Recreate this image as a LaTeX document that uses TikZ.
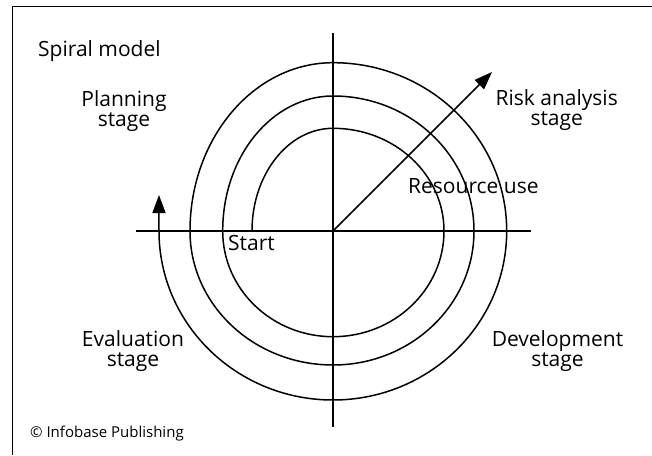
\documentclass[tikz,border=0pt]{standalone}
\usepackage{fontspec}
\setmainfont{Open Sans}
\usetikzlibrary{arrows.meta}
\begin{document}
\begin{tikzpicture}[x=1pt,y=1pt,
  ln/.style={line width=1.5pt},
  lbl/.style={font=\fontsize{21}{20}\selectfont,inner sep=0pt,align=center},
  tip/.style={-{Triangle[length=18pt,width=13pt]}}]
\useasboundingbox (-333,-224) rectangle (319,231);
% frame (top and left edges)
\coordinate (fr1) at (319,224.7);
\coordinate (fr2) at (-320.7,224.7);
\coordinate (fr3) at (-320.7,-224);
\draw[line width=1.3pt] (fr1) -- (fr2) -- (fr3);
% axes
\coordinate (O) at (0,0);
\coordinate (ax-t) at (0,197.7);
\coordinate (ax-b) at (0,-195.7);
\coordinate (ax-l) at (-197,0);
\coordinate (ax-r) at (197.7,0);
\draw[ln] (ax-t) -- (ax-b);
\draw[ln] (ax-l) -- (ax-r);
% spiral
\coordinate (s0) at (-81,0);
\coordinate (s-end) at (-174,36);
\draw[ln,tip] (s0)
  arc[start angle=180,end angle=90,x radius=81,y radius=102.7]
  arc[start angle=90,end angle=0,x radius=111,y radius=102.7]
  arc[start angle=0,end angle=-90,x radius=111,y radius=105.7]
  arc[start angle=270,end angle=180,x radius=110.3,y radius=105.7]
  arc[start angle=180,end angle=90,x radius=110.3,y radius=135]
  arc[start angle=90,end angle=0,x radius=141,y radius=135]
  arc[start angle=0,end angle=-90,x radius=141,y radius=134]
  arc[start angle=270,end angle=180,x radius=143,y radius=134]
  arc[start angle=180,end angle=90,x radius=143,y radius=168.3]
  arc[start angle=90,end angle=0,x radius=173.7,y radius=168.3]
  arc[start angle=0,end angle=-90,x radius=173.7,y radius=169]
  arc[start angle=270,end angle=180,x radius=174,y radius=169]
  -- (s-end);
% resource arrow
\coordinate (res) at (159,159);
\draw[ln,tip] (O) -- (res);
% labels
\node[lbl,anchor=base west] (title) at (-295,174) {Spiral model};
\node[lbl,anchor=base] (plan) at (-209,104) {Planning\\stage};
\node[lbl,anchor=base] (risk) at (223.7,105) {Risk analysis\\stage};
\node[lbl,anchor=base] (eval) at (-200,-135.7) {Evaluation\\stage};
\node[lbl,anchor=base] (dev) at (224.5,-135.7) {Development\\stage};
\node[lbl,anchor=base west] (resuse) at (75,37.7) {Resource use};
\node[lbl,anchor=base west] (start) at (-105,-19) {Start};
\node[font=\fontsize{15}{16}\selectfont,inner sep=0pt,anchor=base west] (copy) at (-303,-206.7) {© Infobase Publishing};
\end{tikzpicture}
\end{document}
